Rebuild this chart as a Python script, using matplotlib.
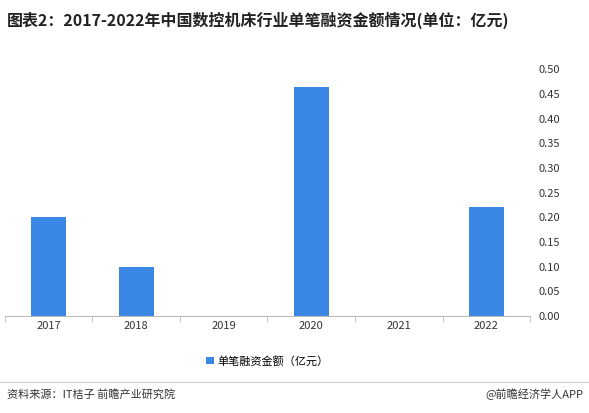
import matplotlib.pyplot as plt

plt.rcParams['font.family'] = ['Noto Sans CJK SC', 'DejaVu Sans']

years = ["2017", "2018", "2019", "2020", "2021", "2022"]
values = [0.20, 0.10, 0.0, 0.465, 0.0, 0.22]
yticks = [0.00, 0.05, 0.10, 0.15, 0.20, 0.25, 0.30, 0.35, 0.40, 0.45, 0.50]

fig = plt.figure(figsize=(5.89, 4.13), dpi=100)
ax = fig.add_axes([0.008, 0.235, 0.892, 0.597])

ax.bar(years, values, width=0.4, color="#3a87e6", label="单笔融资金额（亿元）")
ax.set_ylim(0, 0.5)
ax.set_xlim(-0.5, 5.5)
ax.set_yticks(yticks)
ax.set_yticklabels([f"{v:.2f}" for v in yticks])
ax.yaxis.tick_right()
ax.tick_params(axis="y", length=0, labelsize=8, colors="#333333", pad=6)
ax.tick_params(axis="x", length=4, labelsize=8, colors="#333333", color="#bbbbbb")
ax.set_xticks([i - 0.5 for i in range(7)], minor=True)
ax.tick_params(axis="x", which="major", length=0)
ax.tick_params(axis="x", which="minor", length=4, color="#bbbbbb")
for s in ["top", "left", "right"]:
    ax.spines[s].set_visible(False)
ax.spines["bottom"].set_color("#bbbbbb")

ax.legend(loc="upper center", bbox_to_anchor=(0.5, -0.12), frameon=False,
          fontsize=8, handlelength=0.7, handleheight=0.7, handletextpad=0.3)

fig.text(0.012, 0.95, "图表2：2017-2022年中国数控机床行业单笔融资金额情况(单位：亿元)",
         fontsize=11.5, fontweight="bold", color="#222222", va="center")
fig.add_artist(plt.Line2D([0.0, 1.0], [0.075, 0.075], color="#cccccc", lw=0.8))
fig.text(0.012, 0.045, "资料来源：IT桔子 前瞻产业研究院", fontsize=8, color="#333333", va="center")
fig.text(0.99, 0.045, "@前瞻经济学人APP", fontsize=8, color="#333333", va="center", ha="right")

fig.savefig("out.png", dpi=100)
